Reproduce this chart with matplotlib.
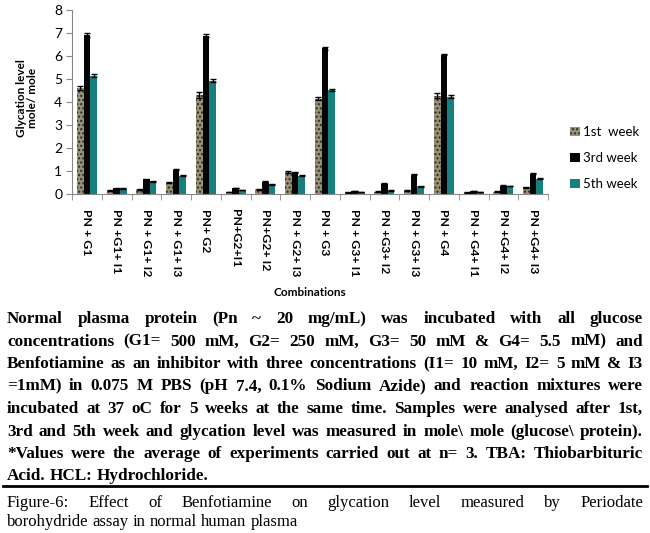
import matplotlib
matplotlib.use("Agg")
import matplotlib.pyplot as plt
import numpy as np
from matplotlib.patches import Patch

categories = ["PN + G1", "PN +G1+ I1", "PN + G1+ I2", "PN + G1+ I3",
              "PN+ G2", "PN+G2+I1", "PN+G2+ I2", "PN + G2+ I3",
              "PN + G3", "PN + G3+ I1", "PN +G3+ I2", "PN + G3+ I3",
              "PN + G4", "PN + G4+ I1", "PN +G4+ I2", "PN +G4+ I3"]
week1 = [4.62, 0.15, 0.20, 0.50, 4.30, 0.08, 0.20, 0.95, 4.15, 0.07, 0.10, 0.15, 4.28, 0.07, 0.10, 0.30]
week3 = [6.92, 0.25, 0.65, 1.05, 6.88, 0.27, 0.53, 0.95, 6.33, 0.12, 0.45, 0.83, 6.05, 0.13, 0.35, 0.88]
week5 = [5.15, 0.22, 0.55, 0.80, 4.93, 0.17, 0.43, 0.80, 4.53, 0.08, 0.15, 0.33, 4.23, 0.08, 0.35, 0.66]
err1 = [0.08, 0.02, 0.02, 0.03, 0.12, 0.01, 0.02, 0.03, 0.08, 0.01, 0.01, 0.02, 0.12, 0.01, 0.01, 0.02]
err3 = [0.08, 0.02, 0.02, 0.02, 0.07, 0.01, 0.02, 0.02, 0.08, 0.01, 0.02, 0.02, 0.02, 0.01, 0.02, 0.02]
err5 = [0.07, 0.02, 0.02, 0.02, 0.07, 0.01, 0.02, 0.02, 0.05, 0.01, 0.01, 0.02, 0.07, 0.01, 0.01, 0.02]
series_names = ["1st  week", "3rd week", "5th week"]

caption_lines = [
    "Normal plasma protein (Pn ~ 20 mg/mL) was incubated with all glucose",
    "concentrations (G1= 500 mM, G2= 250 mM, G3= 50 mM & G4= 5.5 mM) and",
    "Benfotiamine as an inhibitor with three concentrations (I1= 10 mM, I2= 5 mM & I3",
    "=1mM) in 0.075 M PBS (pH 7.4, 0.1% Sodium Azide) and reaction mixtures were",
    "incubated at 37 oC for 5 weeks at the same time. Samples were analysed after 1st,",
    "3rd and 5th week and glycation level was measured in mole\\ mole (glucose\\ protein).",
    "*Values were the average of experiments carried out at n= 3. TBA: Thiobarbituric",
    "Acid. HCL: Hydrochloride.",
]
figure_lines = [
    "Figure-6: Effect of Benfotiamine on glycation level measured by Periodate",
    "borohydride assay in normal human plasma",
]

W, H = 650, 533
fig = plt.figure(figsize=(W / 100, H / 100), dpi=100)
fig.patch.set_facecolor("white")

def fx(px):
    return px / W

def fy(py):
    return 1 - py / H

ax = fig.add_axes([fx(72), fy(194), fx(548) - fx(72), fy(10) - fy(194)])
x = np.arange(len(categories))
bw = 0.225
ekw = dict(ecolor="black", elinewidth=1.0, capsize=2, capthick=1.0)
ax.bar(x - bw, week1, bw, yerr=err1, color="#9a9274", edgecolor="#2a2a2a", linewidth=0,
       hatch="....", error_kw=ekw, label=series_names[0])
ax.bar(x, week3, bw, yerr=err3, color="#050505", linewidth=0, error_kw=ekw, label=series_names[1])
ax.bar(x + bw, week5, bw, yerr=err5, color="#17807f", linewidth=0, error_kw=ekw, label=series_names[2])

ax.set_xlim(-0.5, len(categories) - 0.5)
ax.set_ylim(0, 8)
ax.set_yticks(range(0, 9))
ax.tick_params(axis="y", direction="out", length=4, color="#888888", labelsize=10, pad=3)
for lab in ax.get_yticklabels():
    lab.set_fontfamily("Lato")
ax.set_xticks(x)
ax.set_xticklabels(categories, rotation=-90, fontsize=8.8, fontweight="bold", fontfamily="Lato",
                   va="top", ha="center")
ax.tick_params(axis="x", length=0, pad=11)
ax.set_xticks(np.arange(-0.5, len(categories), 1.0), minor=True)
ax.tick_params(axis="x", which="minor", direction="out", length=4, color="#888888")
for s in ["top", "right"]:
    ax.spines[s].set_visible(False)
for s in ["left", "bottom"]:
    ax.spines[s].set_color("#888888")
    ax.spines[s].set_linewidth(0.8)

fig.text(fx(27), fy(98), "Glycation level\nmole/ mole", rotation=90, ha="center", va="center",
         fontsize=8.5, fontweight="bold", fontfamily="Lato", linespacing=1.1)
fig.text(fx(310), fy(293), "Combinations", ha="center", va="center",
         fontsize=8.5, fontweight="bold", fontfamily="Lato")

handles = [Patch(facecolor="#9a9274", edgecolor="#2a2a2a", hatch="....", linewidth=0),
           Patch(facecolor="#050505", linewidth=0),
           Patch(facecolor="#17807f", linewidth=0)]
leg = fig.legend(handles, series_names, loc="upper left", bbox_to_anchor=(fx(565), fy(121)),
                 frameon=False, prop={"family": "Lato", "size": 9.5}, handlelength=0.7,
                 handleheight=0.7, handletextpad=0.3, labelspacing=1.05, borderaxespad=0)

# justified caption
renderer = fig.canvas.get_renderer()

def place_line(ypx, text, x0, x1, justify, **kw):
    words = [w for w in text.split(" ") if w != ""]
    objs = [fig.text(0, fy(ypx), w, va="center_baseline", ha="left", **kw) for w in words]
    widths = [o.get_window_extent(renderer).width for o in objs]
    sp = fig.text(0, 0, "a a", **kw)
    sp2 = fig.text(0, 0, "aa", **kw)
    space = sp.get_window_extent(renderer).width - sp2.get_window_extent(renderer).width
    sp.remove(); sp2.remove()
    if justify and len(words) > 1:
        gap = (x1 - x0 - sum(widths)) / (len(words) - 1)
    else:
        gap = space
    cur = x0
    for o, w in zip(objs, widths):
        o.set_x(fx(cur))
        cur += w + gap

cap_kw = dict(fontsize=12.3, fontweight="bold", fontfamily="Liberation Serif")
ys = [317, 339.5, 362, 384.5, 407, 429.5, 452, 474.5]
for i, (yy, line) in enumerate(zip(ys, caption_lines)):
    place_line(yy, line, 7, 643, justify=(i < len(caption_lines) - 1), **cap_kw)

fig.add_artist(plt.Line2D([fx(3), fx(647)], [fy(486), fy(486)], color="black", lw=2.0))

fig_kw = dict(fontsize=12, fontfamily="Liberation Serif")
place_line(501, figure_lines[0], 7, 643, justify=True, **fig_kw)
place_line(520, figure_lines[1], 7, 643, justify=False, **fig_kw)

fig.savefig("out.png", dpi=100, facecolor="white")
